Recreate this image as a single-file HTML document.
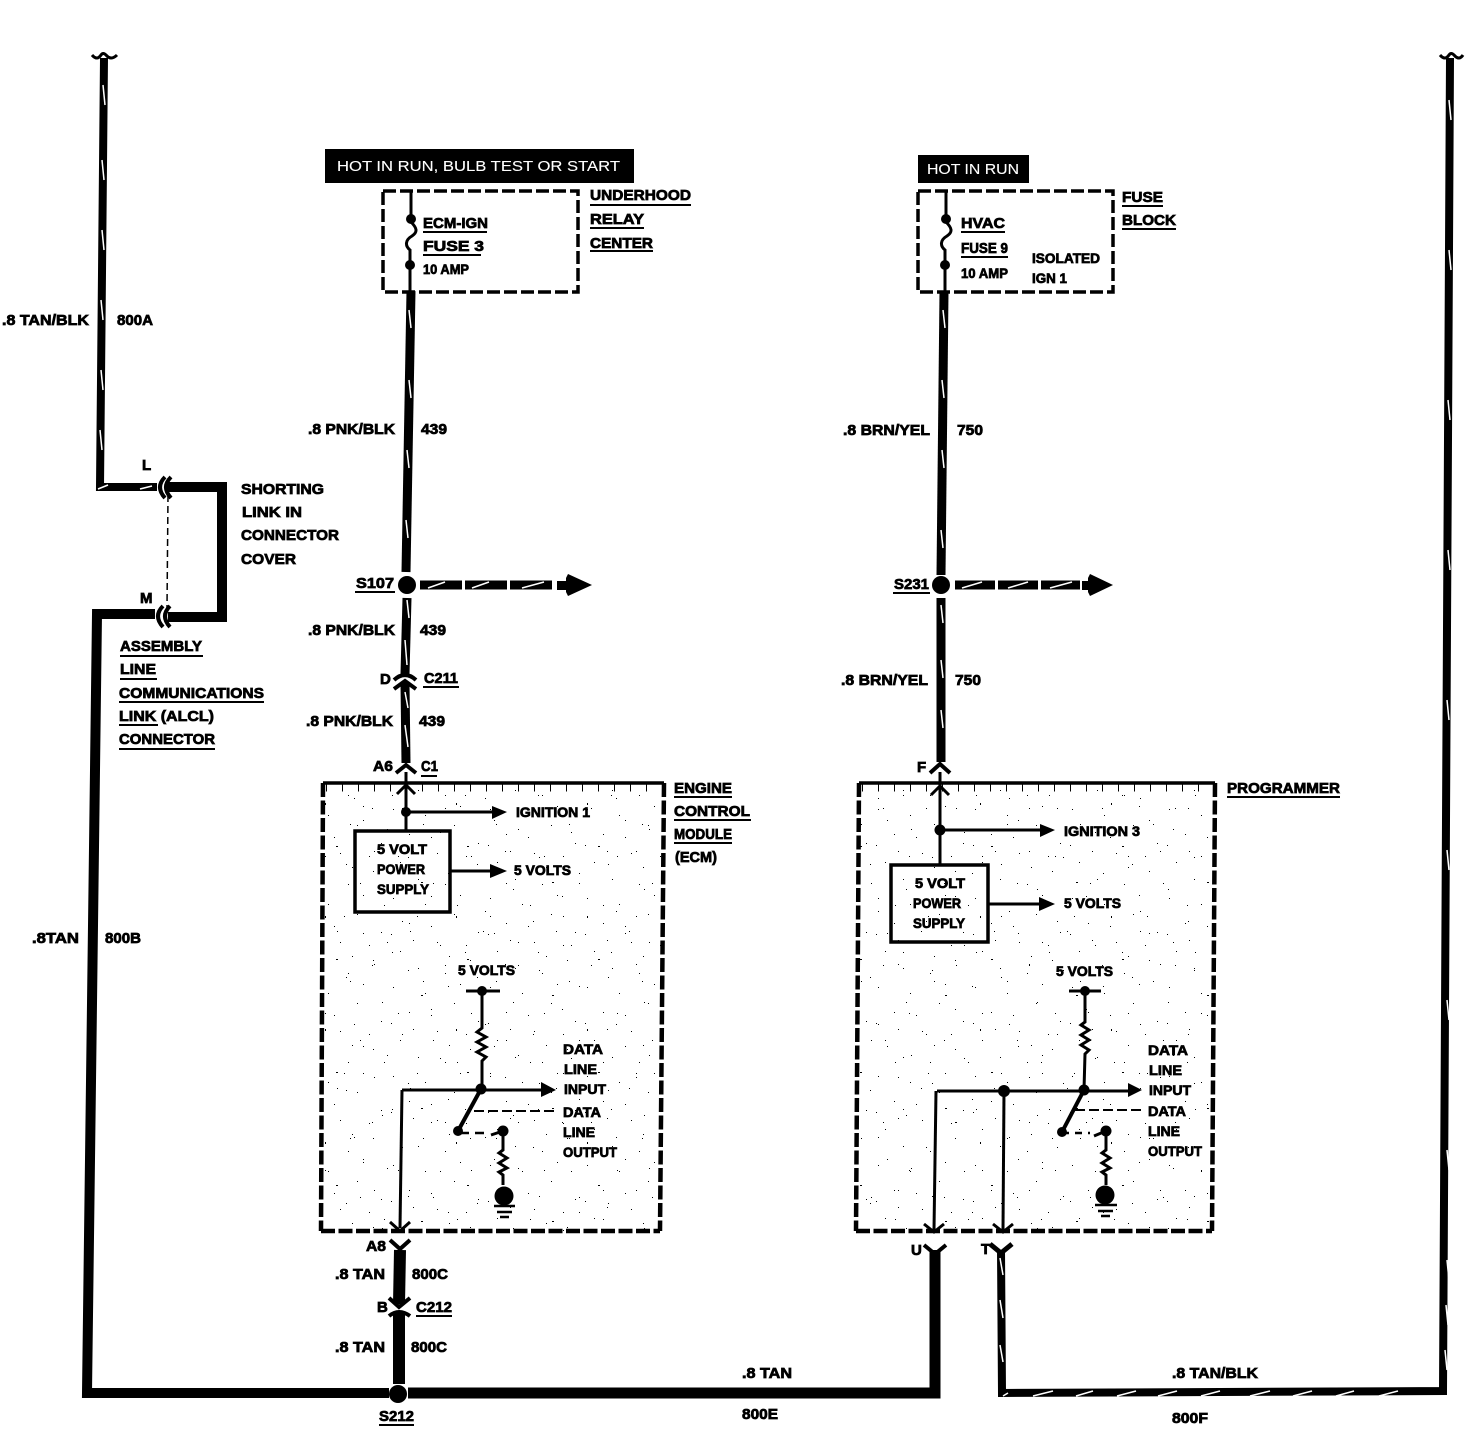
<!DOCTYPE html>
<html><head><meta charset="utf-8"><style>
html,body{margin:0;padding:0;background:#fff}
svg{display:block}
text{font-family:"Liberation Sans",sans-serif;font-weight:bold;font-size:15px;fill:#000;stroke:#000;stroke-width:.75px}
.s{font-size:14px}
.w{fill:#fff;stroke:#fff;stroke-width:.1px;font-weight:normal;font-size:15px}
.wire{fill:none;stroke:#000;stroke-linejoin:miter}
.t{fill:none;stroke:#000;stroke-width:3}
.sl line{stroke:#fff;stroke-width:1.5}
.u line{stroke:#000;stroke-width:2}
</style></head><body>
<svg width="1466" height="1440" viewBox="0 0 1466 1440" xmlns="http://www.w3.org/2000/svg">
<defs>
<pattern id="sp" width="97" height="89" patternUnits="userSpaceOnUse">
<g fill="#000"><rect x="5" y="8" width="1" height="1"/><rect x="21" y="33" width="1" height="1"/><rect x="37" y="14" width="1" height="1"/><rect x="49" y="52" width="1" height="1"/><rect x="66" y="24" width="1" height="1"/><rect x="82" y="70" width="1" height="1"/><rect x="12" y="61" width="1" height="1"/><rect x="30" y="78" width="1" height="1"/><rect x="72" y="5" width="1" height="1"/><rect x="90" y="42" width="1" height="1"/><rect x="57" y="83" width="1" height="1"/><rect x="43" y="36" width="1" height="1"/><rect x="3" y="44" width="1" height="1"/><rect x="78" y="55" width="1" height="1"/><rect x="25" y="50" width="1" height="1"/><rect x="61" y="66" width="1" height="1"/></g>
</pattern>
<pattern id="sp2" width="131" height="113" patternUnits="userSpaceOnUse">
<g fill="#000"><rect x="9" y="17" width="1" height="1"/><rect x="28" y="91" width="2" height="1"/><rect x="47" y="41" width="1" height="1"/><rect x="63" y="12" width="1" height="2"/><rect x="84" y="73" width="1" height="1"/><rect x="101" y="29" width="1" height="1"/><rect x="120" y="98" width="1" height="1"/><rect x="74" y="55" width="2" height="1"/><rect x="15" y="66" width="1" height="1"/><rect x="112" y="60" width="1" height="1"/><rect x="38" y="105" width="1" height="1"/><rect x="92" y="7" width="1" height="1"/><rect x="55" y="82" width="1" height="1"/><rect x="125" y="38" width="1" height="1"/></g>
</pattern>
<pattern id="sp3" width="73" height="157" patternUnits="userSpaceOnUse">
<g fill="#000"><rect x="7" y="23" width="1" height="1"/><rect x="19" y="120" width="1" height="1"/><rect x="33" y="71" width="1" height="1"/><rect x="45" y="146" width="1" height="1"/><rect x="58" y="39" width="1" height="1"/><rect x="68" y="98" width="1" height="1"/><rect x="27" y="10" width="1" height="1"/><rect x="52" y="131" width="1" height="1"/></g>
</pattern>
</defs>
<rect width="1466" height="1440" fill="#fff"/>
<rect x="324" y="784" width="338" height="447" fill="url(#sp)"/>
<rect x="859" y="784" width="354" height="447" fill="url(#sp)"/>
<rect x="324" y="784" width="338" height="447" fill="url(#sp2)"/>
<rect x="859" y="784" width="354" height="447" fill="url(#sp2)"/>
<rect x="324" y="784" width="338" height="447" fill="url(#sp3)"/>
<rect x="859" y="784" width="354" height="447" fill="url(#sp3)"/>

<!-- main wires -->
<polyline class="wire" stroke-width="8" points="104,58 100,487 157,487"/>
<polyline class="wire" stroke-width="10" points="168,487 222,487 222,617 168,617"/>
<polyline class="wire" stroke-width="10" points="155,614 97,614 87,1393 389,1393"/>
<polyline class="wire" stroke-width="11" points="408,1393 935,1393 935,1250"/>
<polyline class="wire" stroke-width="8" points="1001,1250 1002,1393 1443,1391 1450,58"/>
<path class="t" d="M92,55q5,6 9,0q2,-3 5,0q5,6 11,0M1440,55q5,6 9,0q2,-3 5,0q5,6 9,0"/>
<path class="t" style="stroke-width:4" d="M165,477q-10,10 0,21M171,477q-10,10 0,21M163,606q-10,10 0,21M170,606q-10,10 0,21"/>
<line x1="168" y1="495" x2="167" y2="608" stroke="#000" stroke-width="1.5" stroke-dasharray="7 4"/>

<polyline class="wire" stroke-width="9" points="411,291 406,572"/>
<polyline class="wire" stroke-width="9" points="407,598 405,674"/>
<polyline class="wire" stroke-width="9" points="405,683 406,763"/>
<circle cx="407" cy="585" r="9"/>
<path class="t" style="stroke-width:4" d="M394,680q11,-10 22,0"/>
<path class="wire" stroke-width="4" d="M394,689l11,-8l11,8"/>
<path class="wire" stroke-width="4" d="M396,773l10,-8l10,8"/>

<polyline class="wire" stroke-width="9" points="944,292 941,575"/>
<polyline class="wire" stroke-width="9" points="941,598 941,762"/>
<circle cx="941" cy="585" r="9"/>
<path class="wire" stroke-width="4" d="M930,773l10,-9l10,9"/>

<!-- branches -->
<line x1="420" y1="585" x2="554" y2="585" stroke="#000" stroke-width="9" stroke-dasharray="42 3"/>
<rect x="557" y="581" width="12" height="9"/>
<polygon points="566,578 568,574 592,585 568,596 566,592"/>
<line x1="955" y1="585" x2="1080" y2="585" stroke="#000" stroke-width="9" stroke-dasharray="40 3"/>
<rect x="1082" y="581" width="10" height="9"/>
<polygon points="1088,578 1090,574 1113,585 1090,596 1088,592"/>

<!-- lower left connector -->
<line x1="400" y1="1250" x2="399" y2="1304" stroke="#000" stroke-width="12"/>
<line x1="399" y1="1313" x2="399" y2="1384" stroke="#000" stroke-width="12"/>
<circle cx="398" cy="1394" r="9"/>
<path class="wire" stroke-width="4" d="M390,1240l10,9l10,-9"/>
<path class="wire" stroke-width="4" d="M389,1298l10,9l11,-9"/>
<path class="t" style="stroke-width:4" d="M389,1316q10,-8 21,0"/>
<path class="wire" stroke-width="4" d="M924,1245l11,9l11,-9"/>
<path class="wire" stroke-width="5" d="M990,1244l11,9l11,-9"/>

<!-- white slashes -->
<g class="sl">
<line x1="103" y1="85" x2="105" y2="105"/><line x1="102" y1="160" x2="104" y2="180"/><line x1="102" y1="230" x2="104" y2="250"/><line x1="101" y1="300" x2="103" y2="320"/><line x1="101" y1="370" x2="103" y2="390"/><line x1="100" y1="430" x2="102" y2="450"/><line x1="98" y1="489" x2="108" y2="485"/><line x1="140" y1="489" x2="152" y2="486"/>
<line x1="409" y1="310" x2="411" y2="328"/><line x1="409" y1="380" x2="411" y2="398"/><line x1="407" y1="450" x2="409" y2="468"/><line x1="406" y1="520" x2="408" y2="538"/><line x1="407" y1="600" x2="409" y2="618"/><line x1="405" y1="640" x2="407" y2="665"/><line x1="405" y1="692" x2="408" y2="708"/><line x1="405" y1="725" x2="408" y2="747"/>
<line x1="943" y1="310" x2="945" y2="328"/><line x1="942" y1="380" x2="944" y2="398"/><line x1="942" y1="450" x2="944" y2="468"/><line x1="941" y1="530" x2="943" y2="548"/><line x1="941" y1="605" x2="943" y2="623"/><line x1="941" y1="660" x2="943" y2="678"/><line x1="941" y1="710" x2="943" y2="728"/>
<line x1="428" y1="588" x2="445" y2="582"/><line x1="472" y1="588" x2="489" y2="582"/><line x1="522" y1="588" x2="544" y2="582"/>
<line x1="962" y1="588" x2="982" y2="582"/><line x1="1008" y1="588" x2="1028" y2="582"/><line x1="1050" y1="588" x2="1072" y2="582"/>
<line x1="1000" y1="1258" x2="1003" y2="1275"/><line x1="1000" y1="1300" x2="1003" y2="1318"/><line x1="1000" y1="1345" x2="1003" y2="1362"/>
<line x1="1003" y1="1396" x2="1008" y2="1393"/><line x1="1033" y1="1396" x2="1053" y2="1391"/><line x1="1076" y1="1396" x2="1093" y2="1391"/><line x1="1117" y1="1396" x2="1136" y2="1391"/><line x1="1158" y1="1396" x2="1177" y2="1391"/><line x1="1201" y1="1396" x2="1220" y2="1391"/><line x1="1250" y1="1396" x2="1270" y2="1391"/><line x1="1293" y1="1396" x2="1312" y2="1391"/><line x1="1336" y1="1396" x2="1354" y2="1391"/><line x1="1379" y1="1396" x2="1398" y2="1391"/>
<line x1="1447" y1="1260" x2="1449" y2="1280"/><line x1="1446" y1="1305" x2="1448" y2="1325"/><line x1="1445" y1="1350" x2="1447" y2="1370"/>
<line x1="1449" y1="100" x2="1451" y2="120"/><line x1="1449" y1="250" x2="1451" y2="270"/><line x1="1448" y1="400" x2="1450" y2="420"/><line x1="1448" y1="550" x2="1450" y2="570"/><line x1="1447" y1="700" x2="1449" y2="720"/><line x1="1447" y1="850" x2="1449" y2="870"/><line x1="1447" y1="1000" x2="1449" y2="1020"/><line x1="1447" y1="1150" x2="1449" y2="1170"/>
</g>

<!-- dashed boxes -->
<g fill="none" stroke="#000" stroke-width="3.5" stroke-dasharray="13 4">
<rect x="383" y="191" width="195" height="101"/>
<rect x="918" y="191" width="195" height="101"/>
</g>
<g fill="none" stroke="#000" stroke-width="4.5" stroke-dasharray="14 3.5">
<path d="M323,783L321,1231"/><path d="M664,783L660,1231"/><path d="M321,1231H660"/>
<path d="M859,783L856,1231"/><path d="M1215,783L1212,1231"/><path d="M856,1231H1212"/>
</g>
<line x1="323" y1="783" x2="664" y2="783" stroke="#000" stroke-width="3.5"/>
<line x1="859" y1="783" x2="1215" y2="783" stroke="#000" stroke-width="3.5"/>
<line x1="326" y1="788" x2="664" y2="788" stroke="#000" stroke-width="7" stroke-dasharray="1 15"/>
<line x1="862" y1="788" x2="1215" y2="788" stroke="#000" stroke-width="7" stroke-dasharray="1 15"/>

<!-- fuses -->
<g class="t">
<path d="M411,191V218"/><path d="M410,265V292"/>
<path d="M411,222c6,6 7,10 1,14c-7,4 -7,10 -2,14L410,262"/>
<path d="M946,191V218"/><path d="M945,265V292"/>
<path d="M946,222c6,6 7,10 1,14c-7,4 -7,10 -2,14L945,262"/>
</g>
<circle cx="411" cy="219" r="5"/><circle cx="410" cy="265" r="5"/>
<circle cx="946" cy="219" r="5"/><circle cx="945" cy="265" r="5"/>

<!-- ECM internals -->
<g class="t">
<path d="M406,772V830"/><path d="M397,794l9,-9l9,9"/>
<path d="M406,812H492"/><path d="M451,871H492"/>
<path d="M466,991H500"/>
<path d="M482,991V1028l-5,4l9,5l-9,5l9,5l-9,5l9,5l-4,4V1089"/>
<path d="M402,1090H542"/><path d="M402,1090L400,1228"/>
<path d="M390,1222l10,9l10,-9"/>
</g>
<polygon points="492,806 507,812 492,819"/><polygon points="490,864 507,871 490,878"/>
<circle cx="406" cy="812" r="5"/>
<rect x="355" y="831" width="95" height="81" fill="none" stroke="#000" stroke-width="3.5"/>
<circle cx="482" cy="991" r="5"/><circle cx="481" cy="1089" r="5.5"/>
<polygon points="541,1082 556,1090 541,1097"/>
<line x1="481" y1="1089" x2="458" y2="1131" stroke="#000" stroke-width="4"/>
<circle cx="458" cy="1131" r="5"/>
<path d="M474,1111H558" stroke="#000" stroke-width="2" stroke-dasharray="10 4" fill="none"/>
<path d="M460,1133H490" stroke="#000" stroke-width="2.5" stroke-dasharray="9 6" fill="none"/>
<path class="t" d="M491,1135l12,-4M503,1136v14l-4,3l8,5l-8,5l8,5l-8,4l4,3v10"/>
<circle cx="503" cy="1131" r="5.5"/><circle cx="504" cy="1196" r="9.5"/>
<path stroke="#000" stroke-width="2.5" d="M494,1206H515M497,1212H512M500,1217H509"/>

<!-- Programmer internals -->
<g class="t">
<path d="M940,772V864"/><path d="M931,795l9,-9l9,9"/>
<path d="M940,830H1040"/><path d="M989,904H1040"/>
<path d="M1069,991H1101"/>
<path d="M1085,991V1022l-4,3l8,5l-8,5l8,5l-8,5l8,5l-4,4L1084,1090"/>
<path d="M937,1091H1128"/><path d="M936,1091L934,1230"/><path d="M1004,1091L1003,1230"/>
<path d="M924,1224l10,8l10,-8"/><path d="M993,1224l10,8l10,-8"/>
</g>
<polygon points="1040,824 1055,830 1040,837"/><polygon points="1039,897 1055,904 1039,911"/>
<circle cx="940" cy="830" r="5.5"/>
<rect x="891" y="865" width="97" height="77" fill="none" stroke="#000" stroke-width="3.5"/>
<circle cx="1085" cy="991" r="5"/><circle cx="1084" cy="1090" r="5.5"/><circle cx="1004" cy="1091" r="6"/>
<polygon points="1128,1083 1142,1090 1128,1097"/>
<line x1="1084" y1="1090" x2="1062" y2="1132" stroke="#000" stroke-width="4"/>
<circle cx="1062" cy="1132" r="5"/>
<path d="M1075,1110H1142" stroke="#000" stroke-width="2" stroke-dasharray="10 4" fill="none"/>
<path d="M1062,1133H1090" stroke="#000" stroke-width="2.5" stroke-dasharray="7 6" fill="none"/>
<path class="t" d="M1094,1136l12,-5M1106,1136v14l-4,3l8,5l-8,5l8,5l-8,4l4,3v10"/>
<circle cx="1106" cy="1131" r="5.5"/><circle cx="1105" cy="1195" r="9.5"/>
<path stroke="#000" stroke-width="2.5" d="M1095,1205H1117M1098,1211H1113M1101,1216H1110"/>

<!-- black labels -->
<rect x="325" y="149" width="309" height="34"/>
<rect x="918" y="155" width="111" height="28"/>
<text class="w" x="337" y="171" textLength="283" lengthAdjust="spacingAndGlyphs">HOT IN RUN, BULB TEST OR START</text>
<text class="w" x="927" y="174" textLength="92" lengthAdjust="spacingAndGlyphs">HOT IN RUN</text>

<g>
<text x="590" y="200" textLength="101" lengthAdjust="spacingAndGlyphs">UNDERHOOD</text>
<text x="590" y="224" textLength="54" lengthAdjust="spacingAndGlyphs">RELAY</text>
<text x="590" y="248" textLength="63" lengthAdjust="spacingAndGlyphs">CENTER</text>
<text x="423" y="228" textLength="65" lengthAdjust="spacingAndGlyphs">ECM-IGN</text>
<text x="423" y="251" textLength="61" lengthAdjust="spacingAndGlyphs">FUSE 3</text>
<text class="s" x="423" y="274" textLength="46" lengthAdjust="spacingAndGlyphs">10 AMP</text>
<text x="961" y="228" textLength="44" lengthAdjust="spacingAndGlyphs">HVAC</text>
<text x="961" y="253" textLength="47" lengthAdjust="spacingAndGlyphs">FUSE 9</text>
<text class="s" x="961" y="278" textLength="47" lengthAdjust="spacingAndGlyphs">10 AMP</text>
<text class="s" x="1032" y="263" textLength="68" lengthAdjust="spacingAndGlyphs">ISOLATED</text>
<text class="s" x="1032" y="283" textLength="35" lengthAdjust="spacingAndGlyphs">IGN 1</text>
<text x="1122" y="202" textLength="41" lengthAdjust="spacingAndGlyphs">FUSE</text>
<text x="1122" y="225" textLength="54" lengthAdjust="spacingAndGlyphs">BLOCK</text>

<text x="2" y="325" textLength="87" lengthAdjust="spacingAndGlyphs">.8 TAN/BLK</text>
<text x="117" y="325" textLength="36" lengthAdjust="spacingAndGlyphs">800A</text>
<text x="308" y="434" textLength="87" lengthAdjust="spacingAndGlyphs">.8 PNK/BLK</text>
<text x="421" y="434" textLength="26" lengthAdjust="spacingAndGlyphs">439</text>
<text x="843" y="435" textLength="87" lengthAdjust="spacingAndGlyphs">.8 BRN/YEL</text>
<text x="957" y="435" textLength="26" lengthAdjust="spacingAndGlyphs">750</text>
<text x="356" y="588" textLength="38" lengthAdjust="spacingAndGlyphs">S107</text>
<text x="894" y="589" textLength="35" lengthAdjust="spacingAndGlyphs">S231</text>
<text x="308" y="635" textLength="87" lengthAdjust="spacingAndGlyphs">.8 PNK/BLK</text>
<text x="420" y="635" textLength="26" lengthAdjust="spacingAndGlyphs">439</text>
<text x="380" y="684">D</text>
<text x="424" y="683" textLength="34" lengthAdjust="spacingAndGlyphs">C211</text>
<text x="841" y="685" textLength="87" lengthAdjust="spacingAndGlyphs">.8 BRN/YEL</text>
<text x="955" y="685" textLength="26" lengthAdjust="spacingAndGlyphs">750</text>
<text x="306" y="726" textLength="87" lengthAdjust="spacingAndGlyphs">.8 PNK/BLK</text>
<text x="419" y="726" textLength="26" lengthAdjust="spacingAndGlyphs">439</text>
<text x="373" y="771" textLength="20" lengthAdjust="spacingAndGlyphs">A6</text>
<text x="421" y="771" textLength="17" lengthAdjust="spacingAndGlyphs">C1</text>
<text x="917" y="772">F</text>

<text x="674" y="793" textLength="58" lengthAdjust="spacingAndGlyphs">ENGINE</text>
<text x="674" y="816" textLength="76" lengthAdjust="spacingAndGlyphs">CONTROL</text>
<text x="674" y="839" textLength="58" lengthAdjust="spacingAndGlyphs">MODULE</text>
<text x="675" y="862" textLength="42" lengthAdjust="spacingAndGlyphs">(ECM)</text>
<text x="1227" y="793" textLength="113" lengthAdjust="spacingAndGlyphs">PROGRAMMER</text>

<text class="s" x="516" y="817" textLength="74" lengthAdjust="spacingAndGlyphs">IGNITION 1</text>
<text class="s" x="1064" y="836" textLength="76" lengthAdjust="spacingAndGlyphs">IGNITION 3</text>
<text class="s" x="377" y="854" textLength="50" lengthAdjust="spacingAndGlyphs">5 VOLT</text>
<text class="s" x="377" y="874" textLength="48" lengthAdjust="spacingAndGlyphs">POWER</text>
<text class="s" x="377" y="894" textLength="52" lengthAdjust="spacingAndGlyphs">SUPPLY</text>
<text class="s" x="514" y="875" textLength="57" lengthAdjust="spacingAndGlyphs">5 VOLTS</text>
<text class="s" x="915" y="888" textLength="50" lengthAdjust="spacingAndGlyphs">5 VOLT</text>
<text class="s" x="913" y="908" textLength="48" lengthAdjust="spacingAndGlyphs">POWER</text>
<text class="s" x="913" y="928" textLength="52" lengthAdjust="spacingAndGlyphs">SUPPLY</text>
<text class="s" x="1064" y="908" textLength="57" lengthAdjust="spacingAndGlyphs">5 VOLTS</text>
<text class="s" x="458" y="975" textLength="57" lengthAdjust="spacingAndGlyphs">5 VOLTS</text>
<text class="s" x="1056" y="976" textLength="57" lengthAdjust="spacingAndGlyphs">5 VOLTS</text>

<text class="s" x="563" y="1054" textLength="40" lengthAdjust="spacingAndGlyphs">DATA</text>
<text class="s" x="564" y="1074" textLength="33" lengthAdjust="spacingAndGlyphs">LINE</text>
<text class="s" x="564" y="1094" textLength="42" lengthAdjust="spacingAndGlyphs">INPUT</text>
<text class="s" x="563" y="1117" textLength="38" lengthAdjust="spacingAndGlyphs">DATA</text>
<text class="s" x="563" y="1137" textLength="32" lengthAdjust="spacingAndGlyphs">LINE</text>
<text class="s" x="563" y="1157" textLength="54" lengthAdjust="spacingAndGlyphs">OUTPUT</text>
<text class="s" x="1148" y="1055" textLength="40" lengthAdjust="spacingAndGlyphs">DATA</text>
<text class="s" x="1149" y="1075" textLength="33" lengthAdjust="spacingAndGlyphs">LINE</text>
<text class="s" x="1149" y="1095" textLength="42" lengthAdjust="spacingAndGlyphs">INPUT</text>
<text class="s" x="1148" y="1116" textLength="38" lengthAdjust="spacingAndGlyphs">DATA</text>
<text class="s" x="1148" y="1136" textLength="32" lengthAdjust="spacingAndGlyphs">LINE</text>
<text class="s" x="1148" y="1156" textLength="54" lengthAdjust="spacingAndGlyphs">OUTPUT</text>

<text x="366" y="1251" textLength="20" lengthAdjust="spacingAndGlyphs">A8</text>
<text x="911" y="1255">U</text>
<text x="981" y="1254">T</text>
<text x="335" y="1279" textLength="50" lengthAdjust="spacingAndGlyphs">.8 TAN</text>
<text x="412" y="1279" textLength="36" lengthAdjust="spacingAndGlyphs">800C</text>
<text x="377" y="1312">B</text>
<text x="416" y="1312" textLength="36" lengthAdjust="spacingAndGlyphs">C212</text>
<text x="335" y="1352" textLength="50" lengthAdjust="spacingAndGlyphs">.8 TAN</text>
<text x="411" y="1352" textLength="36" lengthAdjust="spacingAndGlyphs">800C</text>
<text x="742" y="1378" textLength="50" lengthAdjust="spacingAndGlyphs">.8 TAN</text>
<text x="742" y="1419" textLength="36" lengthAdjust="spacingAndGlyphs">800E</text>
<text x="379" y="1421" textLength="35" lengthAdjust="spacingAndGlyphs">S212</text>
<text x="1172" y="1378" textLength="86" lengthAdjust="spacingAndGlyphs">.8 TAN/BLK</text>
<text x="1172" y="1423" textLength="36" lengthAdjust="spacingAndGlyphs">800F</text>
<text x="32" y="943" textLength="47" lengthAdjust="spacingAndGlyphs">.8TAN</text>
<text x="105" y="943" textLength="36" lengthAdjust="spacingAndGlyphs">800B</text>

<text x="241" y="494" textLength="83" lengthAdjust="spacingAndGlyphs">SHORTING</text>
<text x="242" y="517" textLength="60" lengthAdjust="spacingAndGlyphs">LINK IN</text>
<text x="241" y="540" textLength="98" lengthAdjust="spacingAndGlyphs">CONNECTOR</text>
<text x="241" y="564" textLength="55" lengthAdjust="spacingAndGlyphs">COVER</text>
<text x="142" y="470">L</text>
<text x="140" y="603">M</text>
<text x="120" y="651" textLength="82" lengthAdjust="spacingAndGlyphs">ASSEMBLY</text>
<text x="120" y="674" textLength="36" lengthAdjust="spacingAndGlyphs">LINE</text>
<text x="119" y="698" textLength="145" lengthAdjust="spacingAndGlyphs">COMMUNICATIONS</text>
<text x="119" y="721" textLength="95" lengthAdjust="spacingAndGlyphs">LINK (ALCL)</text>
<text x="119" y="744" textLength="96" lengthAdjust="spacingAndGlyphs">CONNECTOR</text>
</g>

<!-- underlines -->
<g class="u">
<line x1="590" y1="205" x2="691" y2="205"/><line x1="590" y1="228" x2="644" y2="228"/><line x1="590" y1="251" x2="653" y2="251"/>
<line x1="423" y1="232" x2="487" y2="232"/><line x1="423" y1="255" x2="481" y2="255"/>
<line x1="961" y1="232" x2="1005" y2="232"/><line x1="961" y1="257" x2="1008" y2="257"/>
<line x1="1122" y1="206" x2="1163" y2="206"/><line x1="1122" y1="229" x2="1176" y2="229"/>
<line x1="355" y1="592" x2="395" y2="592"/><line x1="893" y1="593" x2="930" y2="593"/>
<line x1="423" y1="687" x2="459" y2="687"/><line x1="421" y1="776" x2="437" y2="776"/>
<line x1="674" y1="797" x2="732" y2="797"/><line x1="674" y1="820" x2="751" y2="820"/><line x1="674" y1="843" x2="732" y2="843"/>
<line x1="1227" y1="797" x2="1340" y2="797"/>
<line x1="416" y1="1316" x2="452" y2="1316"/><line x1="379" y1="1425" x2="414" y2="1425"/>
<line x1="120" y1="656" x2="203" y2="656"/><line x1="120" y1="679" x2="157" y2="679"/><line x1="119" y1="702" x2="264" y2="702"/><line x1="119" y1="725" x2="158" y2="725"/><line x1="119" y1="749" x2="215" y2="749"/>
</g>
</svg>
</body></html>
